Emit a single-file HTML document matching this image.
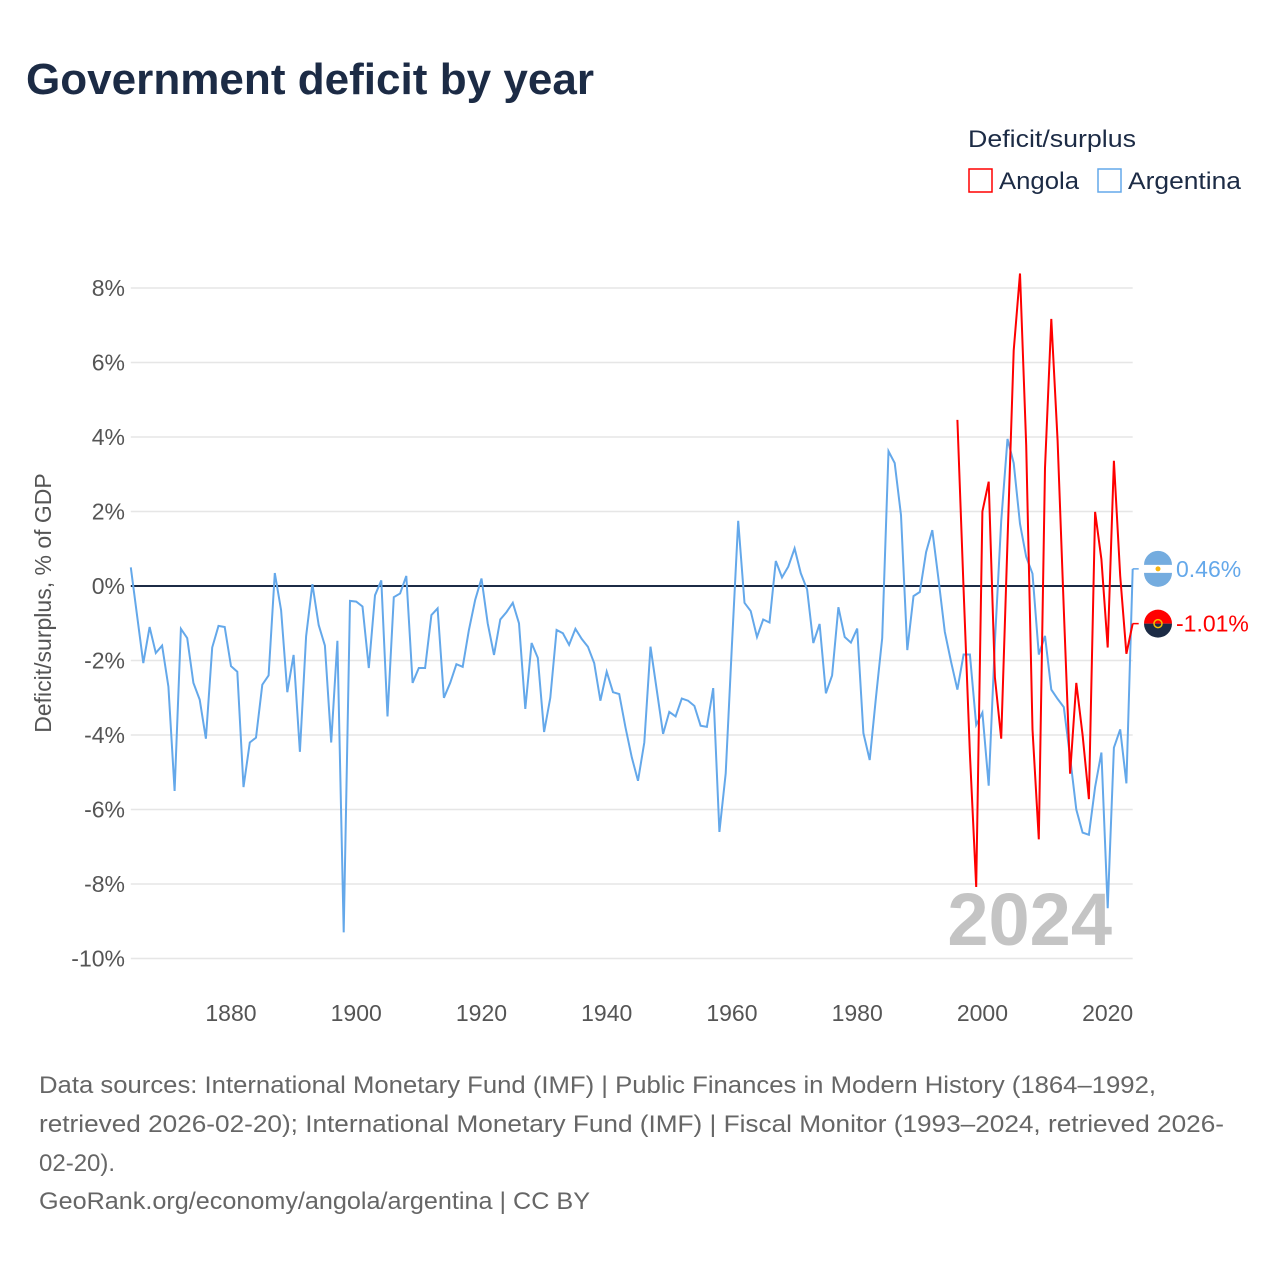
<!DOCTYPE html>
<html><head><meta charset="utf-8"><style>
html,body{margin:0;padding:0;background:#fff;}
svg{display:block;font-family:"Liberation Sans",sans-serif;}
</style></head><body>
<svg id="chart" width="1280" height="1280" viewBox="0 0 1280 1280">
<text x="26" y="94" font-size="44" font-weight="bold" fill="#1c2b45" textLength="568" lengthAdjust="spacingAndGlyphs">Government deficit by year</text>
<g>
<text x="968" y="147" font-size="24" fill="#1c2b45" textLength="168" lengthAdjust="spacingAndGlyphs">Deficit/surplus</text>
<g><rect x="969" y="169" width="23" height="23" fill="none" stroke="#ff0000" stroke-width="1.5"/><text x="999" y="189" font-size="24" fill="#1c2b45" textLength="80" lengthAdjust="spacingAndGlyphs">Angola</text></g>
<g><rect x="1098" y="169" width="23" height="23" fill="none" stroke="#64a8ea" stroke-width="1.5"/><text x="1128" y="189" font-size="24" fill="#1c2b45" textLength="113" lengthAdjust="spacingAndGlyphs">Argentina</text></g>
</g>
<g id="grid"></g>
<g id="yticks"></g>
<g id="xticks"></g>
<text transform="translate(51,603) rotate(-90)" text-anchor="middle" font-size="23" fill="#555">Deficit/surplus, % of GDP</text>
<text x="1112" y="945" text-anchor="end" font-size="74" font-weight="bold" fill="#c4c4c4">2024</text>
<g id="series"></g>
<g id="endlabels"></g>
<g font-size="24" fill="#666">
<text x="39" y="1093" textLength="1117" lengthAdjust="spacingAndGlyphs">Data sources: International Monetary Fund (IMF) | Public Finances in Modern History (1864–1992,</text>
<text x="39" y="1132" textLength="1185" lengthAdjust="spacingAndGlyphs">retrieved 2026-02-20); International Monetary Fund (IMF) | Fiscal Monitor (1993–2024, retrieved 2026-</text>
<text x="39" y="1171">02-20).</text>
<text x="39" y="1209" textLength="551" lengthAdjust="spacingAndGlyphs">GeoRank.org/economy/angola/argentina | CC BY</text>
</g>
</svg>
<script>
const yTicks=[8,6,4,2,0,-2,-4,-6,-8,-10];
const xTicks=[1880,1900,1920,1940,1960,1980,2000,2020];
const argStart=1864;
const argentina=[0.5,-0.8,-2.07,-1.1,-1.8,-1.6,-2.7,-5.5,-1.15,-1.4,-2.6,-3.05,-4.1,-1.65,-1.07,-1.1,-2.15,-2.3,-5.4,-4.2,-4.07,-2.65,-2.4,0.35,-0.65,-2.85,-1.85,-4.45,-1.35,0.05,-1.05,-1.6,-4.2,-1.47,-9.3,-0.4,-0.42,-0.55,-2.2,-0.25,0.15,-3.5,-0.3,-0.2,0.27,-2.6,-2.2,-2.2,-0.78,-0.6,-3.0,-2.6,-2.1,-2.17,-1.18,-0.37,0.2,-1.0,-1.85,-0.9,-0.7,-0.45,-1.0,-3.3,-1.53,-1.93,-3.92,-3.0,-1.18,-1.27,-1.58,-1.15,-1.42,-1.63,-2.07,-3.08,-2.3,-2.85,-2.9,-3.8,-4.6,-5.23,-4.2,-1.63,-2.8,-3.97,-3.38,-3.5,-3.02,-3.08,-3.22,-3.75,-3.78,-2.74,-6.6,-5.03,-1.6,1.75,-0.45,-0.67,-1.37,-0.9,-0.98,0.67,0.23,0.52,1.01,0.34,-0.09,-1.53,-1.02,-2.88,-2.4,-0.57,-1.37,-1.52,-1.14,-3.95,-4.67,-2.98,-1.4,3.62,3.3,1.9,-1.72,-0.27,-0.16,0.91,1.5,0.16,-1.23,-2.04,-2.78,-1.84,-1.84,-3.73,-3.4,-5.36,-1.5,1.74,3.95,3.3,1.67,0.78,0.33,-1.84,-1.34,-2.78,-3.03,-3.25,-4.6,-6.0,-6.62,-6.68,-5.4,-4.47,-8.65,-4.34,-3.85,-5.3,0.46];
const angStart=1996;
const angola=[4.46,-0.1,-4.5,-8.08,2.0,2.8,-2.45,-4.1,1.2,6.32,8.39,3.78,-3.85,-6.8,3.17,7.17,3.9,-0.63,-5.04,-2.6,-4.0,-5.72,1.99,0.72,-1.65,3.36,0.27,-1.82,-1.01];
const NS='http://www.w3.org/2000/svg';
const X0=130.8,X1=1132.7,Y0=1864,Y1=2024;
const x=yr=>X0+(yr-Y0)*(X1-X0)/(Y1-Y0);
const y=v=>586-v*37.25;
function mk(tag,attrs,parent){const e=document.createElementNS(NS,tag);for(const k in attrs)e.setAttribute(k,attrs[k]);parent.appendChild(e);return e;}
const grid=document.getElementById('grid'),yt=document.getElementById('yticks'),xt=document.getElementById('xticks');
yTicks.forEach(v=>{
 const l=mk('line',{x1:X0,x2:X1,y1:y(v),y2:y(v),stroke:'#e6e6e6','stroke-width':1.5},grid);
 
 
 const t=mk('text',{x:125,y:y(v)+8,'text-anchor':'end','font-size':23,fill:'#555'},yt);
 t.textContent=v+'%';
 
 
});
const zl=mk('line',{x1:X0,x2:X1,y1:y(0),y2:y(0),stroke:'#1c2b45','stroke-width':2},grid);


xTicks.forEach(yr=>{
 const t=mk('text',{x:x(yr),y:1021,'text-anchor':'middle','font-size':23,fill:'#555'},xt);
 t.textContent=yr;
 
 
});
const ser=document.getElementById('series');
function line(data,start,color,name){
 const pts=data.map((v,i)=>x(start+i).toFixed(1)+','+y(v).toFixed(1)).join(' ');
 const p=mk('polyline',{points:pts,fill:'none',stroke:color,'stroke-width':2,'stroke-linejoin':'miter'},ser);
 
 
}
line(argentina,argStart,'#64a8ea','argentina-line');
line(angola,angStart,'#ff0000','angola-line');
const el=document.getElementById('endlabels');
function endLabel(v,color,name,flag){
 const yy=y(v),lx=x(Y1);
 mk('polyline',{points:`${lx},${yy} ${lx+6},${yy}`,stroke:color,'stroke-width':1.5,fill:'none'},el);
 const g=mk('g',{},el);
 
 
 const cx=1158;
 if(flag==='ar'){
  mk('circle',{cx:cx,cy:yy,r:14,fill:'#fff'},g);
  mk('path',{d:`M${cx-14},${yy-4} A14,14 0 0 1 ${cx+14},${yy-4} Z`,fill:'#74acdf'},g);
  mk('path',{d:`M${cx-14},${yy+4} A14,14 0 0 0 ${cx+14},${yy+4} Z`,fill:'#74acdf'},g);
  mk('circle',{cx:cx,cy:yy,r:2.5,fill:'#f6b40e'},g);
 }else{
  mk('path',{d:`M${cx-14},${yy} A14,14 0 0 1 ${cx+14},${yy} Z`,fill:'#ff0000'},g);
  mk('path',{d:`M${cx-14},${yy} A14,14 0 0 0 ${cx+14},${yy} Z`,fill:'#1c2b45'},g);
  mk('circle',{cx:cx,cy:yy,r:4,fill:'none',stroke:'#f6c000','stroke-width':1.5},g);
 }
 const t=mk('text',{x:1176,y:yy+8,'font-size':23,fill:color},el);
 t.textContent=(v>0?'':'')+v.toFixed(2)+'%';
 
 
}
endLabel(argentina[argentina.length-1],'#64a8ea','argentina','ar');
endLabel(angola[angola.length-1],'#ff0000','angola','ao');
</script>
</body></html>
